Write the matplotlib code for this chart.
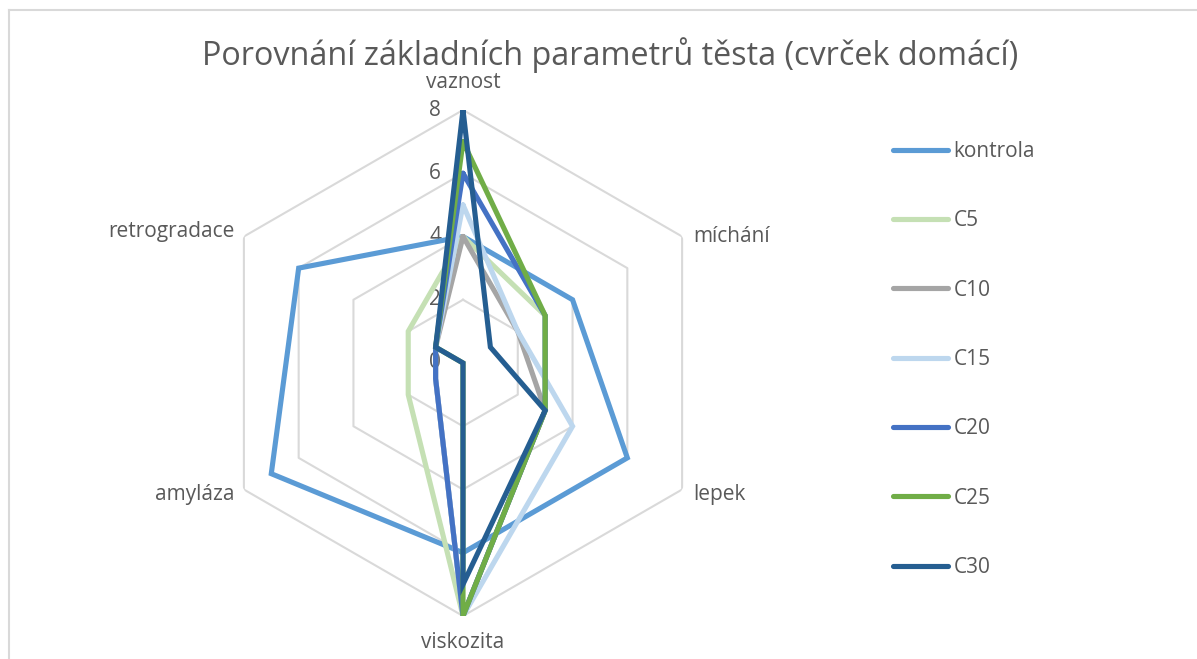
import matplotlib.pyplot as plt
import numpy as np
from matplotlib.lines import Line2D
import matplotlib.transforms as mtransforms

plt.rcParams['font.family'] = ['Open Sans', 'DejaVu Sans']

categories = ['vaznost', 'míchání', 'lepek', 'viskozita', 'amyláza', 'retrogradace']
series_names = ['kontrola', 'C5', 'C10', 'C15', 'C20', 'C25', 'C30']
kontrola = [4, 4, 6, 6, 7, 6]
c5 = [4, 3, 3, 8, 2, 2]
c10 = [4, 2, 3, 8, 1, 1]
c15 = [5, 2, 4, 8, 1, 1]
c20 = [6, 3, 3, 8, 1, 1]
c25 = [7, 3, 3, 8, 0, 1]
c30 = [8, 1, 3, 7, 0, 1]
r_ticks = [0, 2, 4, 6, 8]

colors = ['#5B9BD5', '#C5E0B4', '#A5A5A5', '#BDD7EE', '#4472C4', '#70AD47', '#255E91']
text_col = '#595959'
grid_col = '#D9D9D9'

W, H = 1197, 659
fig = plt.figure(figsize=(W / 100, H / 100), dpi=100)

# chart frame (only top and left edges visible)
fig.add_artist(Line2D([9 / W, 9 / W], [0, 1 - 10 / H], color=grid_col, lw=1.5, transform=fig.transFigure))
fig.add_artist(Line2D([9 / W, 1], [1 - 10 / H, 1 - 10 / H], color=grid_col, lw=1.5, transform=fig.transFigure))

cx, cy, R = 463, 363, 253
ax = fig.add_axes([(cx - R) / W, (H - cy - R) / H, 2 * R / W, 2 * R / H], projection='polar')
ax.set_theta_offset(np.pi / 2)
ax.set_theta_direction(-1)
ax.set_ylim(0, 8)
ax.grid(False)
ax.spines['polar'].set_visible(False)
ax.set_xticks([])
ax.set_yticks([])
ax.patch.set_alpha(0)

n = len(categories)
angles = np.linspace(0, 2 * np.pi, n, endpoint=False)
closed = np.concatenate([angles, angles[:1]])

# hexagonal grid
for r in r_ticks[1:]:
    ax.plot(closed, [r] * (n + 1), color=grid_col, lw=1.5, zorder=1)

data = [kontrola, c5, c10, c15, c20, c25, c30]
for name, vals, col in zip(series_names, data, colors):
    ax.plot(closed, vals + vals[:1], color=col, lw=3.7, label=name,
            solid_joinstyle='miter', solid_capstyle='round', zorder=3)

# radial tick labels
for r in r_ticks:
    tr = mtransforms.offset_copy(ax.transData, fig=fig, x=-22, y=0, units='dots')
    ax.text(0, r, str(r), transform=tr, ha='right', va='center', fontsize=15, color=text_col, zorder=2)

# category labels
offsets = [(0, 27, 'center'), (11, 0, 'left'), (11, -5, 'left'),
           (0, -27, 'center'), (-9, -5, 'right'), (-9, 5, 'right')]
for ang, lab, (dx, dy, ha) in zip(angles, categories, offsets):
    tr = mtransforms.offset_copy(ax.transData, fig=fig, x=dx, y=dy, units='dots')
    ax.text(ang, 8, lab, transform=tr, ha=ha, va='center', fontsize=15, color=text_col)

fig.text(610 / W, 1 - 55 / H, 'Porovnání základních parametrů těsta (cvrček domácí)',
         ha='center', va='center', fontsize=23.3, color=text_col)

handles = [Line2D([], [], color=c, lw=3.7, solid_capstyle='round') for c in colors]
fig.legend(handles, series_names, loc='upper left', bbox_to_anchor=(893 / W, 1 - 141 / H),
           frameon=False, fontsize=15, labelspacing=2.32, handlelength=2.65,
           handletextpad=0.25, borderpad=0, borderaxespad=0, labelcolor=text_col)

fig.savefig('out.png', dpi=100, facecolor='white')
